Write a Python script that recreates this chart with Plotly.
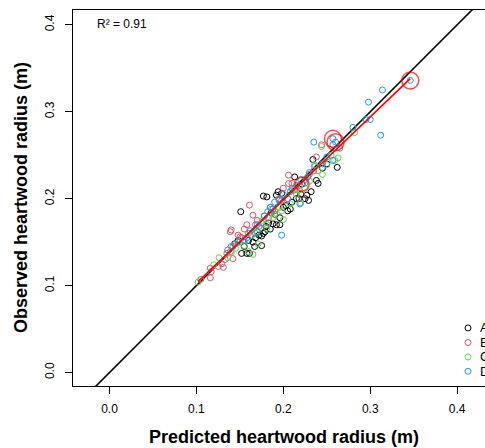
import plotly.graph_objects as go

# ---------------- data ----------------
groups = ["A", "B", "C", "D"]
colors = ["#000000", "#DF536B", "#61D04F", "#2297E6"]

a_x = [0.144, 0.152, 0.158, 0.161, 0.167, 0.175, 0.175, 0.177, 0.188, 0.192, 0.151, 0.177,
       0.192, 0.194, 0.198, 0.213, 0.225, 0.227, 0.229, 0.232, 0.238, 0.240, 0.234, 0.262,
       0.200, 0.205, 0.183, 0.170, 0.165, 0.160, 0.155, 0.148, 0.185, 0.190, 0.210, 0.215,
       0.220, 0.196, 0.180, 0.172, 0.168, 0.186, 0.203, 0.245, 0.250, 0.208, 0.218, 0.181,
       0.179, 0.196, 0.2216]
a_y = [0.148, 0.137, 0.137, 0.137, 0.145, 0.146, 0.157, 0.160, 0.171, 0.170, 0.185, 0.203,
       0.204, 0.208, 0.206, 0.225, 0.200, 0.204, 0.198, 0.208, 0.221, 0.2175, 0.245, 0.236,
       0.190, 0.186, 0.172, 0.162, 0.150, 0.152, 0.145, 0.152, 0.165, 0.182, 0.196, 0.200,
       0.205, 0.178, 0.168, 0.158, 0.155, 0.184, 0.192, 0.235, 0.240, 0.188, 0.200, 0.202,
       0.162, 0.170, 0.2167]

b_x = [0.105, 0.116, 0.117, 0.116, 0.129, 0.131, 0.142, 0.135, 0.139, 0.139, 0.158, 0.140,
       0.161, 0.165, 0.206, 0.206, 0.210, 0.221, 0.238, 0.244, 0.140, 0.150, 0.155, 0.148,
       0.170, 0.175, 0.185, 0.190, 0.195, 0.200, 0.213, 0.225, 0.230, 0.160, 0.168, 0.178,
       0.183, 0.125, 0.133, 0.145, 0.152, 0.198, 0.218, 0.235]
b_y = [0.107, 0.109, 0.116, 0.120, 0.125, 0.121, 0.131, 0.137, 0.139, 0.162, 0.170, 0.164,
       0.1925, 0.181, 0.227, 0.2175, 0.2175, 0.204, 0.248, 0.262, 0.145, 0.156, 0.165, 0.158,
       0.175, 0.172, 0.190, 0.186, 0.200, 0.212, 0.210, 0.222, 0.228, 0.160, 0.170, 0.180,
       0.178, 0.122, 0.130, 0.148, 0.155, 0.198, 0.215, 0.232]

c_x = [0.102, 0.120, 0.126, 0.136, 0.160, 0.165, 0.171, 0.181, 0.181, 0.244, 0.263, 0.259,
       0.250, 0.282, 0.236, 0.190, 0.195, 0.200, 0.205, 0.215, 0.220, 0.230, 0.150, 0.155,
       0.170, 0.176, 0.186, 0.210, 0.225, 0.240, 0.245, 0.255, 0.145, 0.140, 0.188, 0.198,
       0.208, 0.218, 0.164]
c_y = [0.104, 0.124, 0.132, 0.132, 0.139, 0.136, 0.148, 0.166, 0.170, 0.260, 0.247, 0.244,
       0.239, 0.276, 0.239, 0.182, 0.190, 0.176, 0.200, 0.205, 0.195, 0.220, 0.150, 0.146,
       0.162, 0.175, 0.188, 0.210, 0.212, 0.232, 0.228, 0.250, 0.143, 0.138, 0.178, 0.186,
       0.194, 0.210, 0.158]

d_x = [0.346, 0.314, 0.298, 0.295, 0.300, 0.312, 0.280, 0.235, 0.257, 0.257, 0.260, 0.257,
       0.236, 0.219, 0.198, 0.136, 0.148, 0.155, 0.162, 0.170, 0.178, 0.185, 0.190, 0.195,
       0.200, 0.205, 0.210, 0.215, 0.220, 0.225, 0.230, 0.245, 0.250, 0.172, 0.182, 0.188,
       0.168, 0.158, 0.142, 0.208, 0.228, 0.265]
d_y = [0.336, 0.325, 0.311, 0.291, 0.291, 0.273, 0.282, 0.265, 0.269, 0.262, 0.265, 0.244,
       0.237, 0.194, 0.158, 0.141, 0.150, 0.152, 0.163, 0.170, 0.180, 0.190, 0.196, 0.198,
       0.205, 0.200, 0.212, 0.215, 0.222, 0.218, 0.230, 0.240, 0.248, 0.168, 0.185, 0.188,
       0.160, 0.155, 0.145, 0.208, 0.225, 0.258]

# highlighted (influential) observations
hl_x = [0.346, 0.257, 0.260, 0.2216]
hl_y = [0.336, 0.269, 0.265, 0.2167]
hl_size = [17, 17, 17, 14]

# fitted regression
fit_intercept = 0.0072
fit_slope = 0.956
r2_text = "R² = 0.91"

x_ticks = [0.0, 0.1, 0.2, 0.3, 0.4]
y_ticks = [0.0, 0.1, 0.2, 0.3, 0.4]

# ---------------- figure ----------------
FONT = "Liberation Sans, Arial, sans-serif"
series = [(a_x, a_y), (b_x, b_y), (c_x, c_y), (d_x, d_y)]

fig = go.Figure()

# 1:1 line
fig.add_trace(go.Scatter(x=[-0.1, 0.6], y=[-0.1, 0.6], mode="lines",
                         line=dict(color="black", width=1.6), showlegend=False,
                         hoverinfo="skip"))

for (xs, ys), name, col in zip(series, groups, colors):
    fig.add_trace(go.Scatter(x=xs, y=ys, mode="markers", name=name,
                             marker=dict(symbol="circle-open", size=6, color=col,
                                         line=dict(width=1, color=col)),
                             showlegend=False))

all_x = a_x + b_x + c_x + d_x
fx = [min(all_x), max(all_x)]
fy = [fit_intercept + fit_slope * v for v in fx]
fig.add_trace(go.Scatter(x=fx, y=fy, mode="lines", line=dict(color="#FF0000", width=1.6),
                         showlegend=False, hoverinfo="skip"))

fig.add_trace(go.Scatter(x=hl_x, y=hl_y, mode="markers",
                         marker=dict(symbol="circle-open", size=hl_size, color="#FF0000",
                                     line=dict(width=1.5, color="#FF0000")),
                         showlegend=False))

# custom legend (partly cut off at the right edge, as in the reference)
leg_y = [0.1544, 0.1155, 0.0772, 0.0391]
for name, col, ly in zip(groups, colors, leg_y):
    fig.add_shape(type="circle", xref="paper", yref="paper",
                  xsizemode="pixel", ysizemode="pixel",
                  xanchor=0.9587, yanchor=ly, x0=-3, x1=3, y0=-3, y1=3,
                  line=dict(color=col, width=1))
    fig.add_annotation(x=0.983, y=ly, xref="paper", yref="paper", text=name,
                       showarrow=False, xanchor="left", yanchor="middle",
                       font=dict(family=FONT, size=13, color="black"))

fig.add_annotation(x=0.0534, y=0.9627, xref="paper", yref="paper", text=r2_text,
                   showarrow=False, xanchor="left", yanchor="middle",
                   font=dict(family=FONT, size=12, color="black"))

fig.add_annotation(x=0.511, y=-0.1357, xref="paper", yref="paper",
                   text="<b>Predicted heartwood radius (m)</b>", showarrow=False,
                   xanchor="center", yanchor="middle",
                   font=dict(family=FONT, size=18, color="black"))
fig.add_annotation(x=-0.1262, y=0.5, xref="paper", yref="paper",
                   text="<b>Observed heartwood radius (m)</b>", showarrow=False,
                   textangle=-90, xanchor="center", yanchor="middle",
                   font=dict(family=FONT, size=18, color="black"))

fig.update_layout(
    width=485, height=448,
    margin=dict(l=73, r=0, t=10, b=62),
    plot_bgcolor="white", paper_bgcolor="white",
    showlegend=False,
    font=dict(family=FONT, color="black"),
)
fig.update_xaxes(range=[-0.042, 0.432], tickvals=x_ticks,
                 ticktext=[f"{v:.1f}" for v in x_ticks],
                 showgrid=False, zeroline=False, showline=True, linecolor="black",
                 linewidth=1, mirror=True, ticks="outside", ticklen=7, tickcolor="black",
                 ticklabelstandoff=5,
                 tickfont=dict(family=FONT, size=12, color="black"))
fig.update_yaxes(range=[-0.0155, 0.417], tickvals=y_ticks,
                 ticktext=[f"{v:.1f}" for v in y_ticks],
                 showgrid=False, zeroline=False, showline=True, linecolor="black",
                 linewidth=1, ticks="outside", ticklen=7, tickcolor="black",
                 tickangle=-90, ticklabelstandoff=6,
                 tickfont=dict(family=FONT, size=12, color="black"))

fig.write_html("out.html")
